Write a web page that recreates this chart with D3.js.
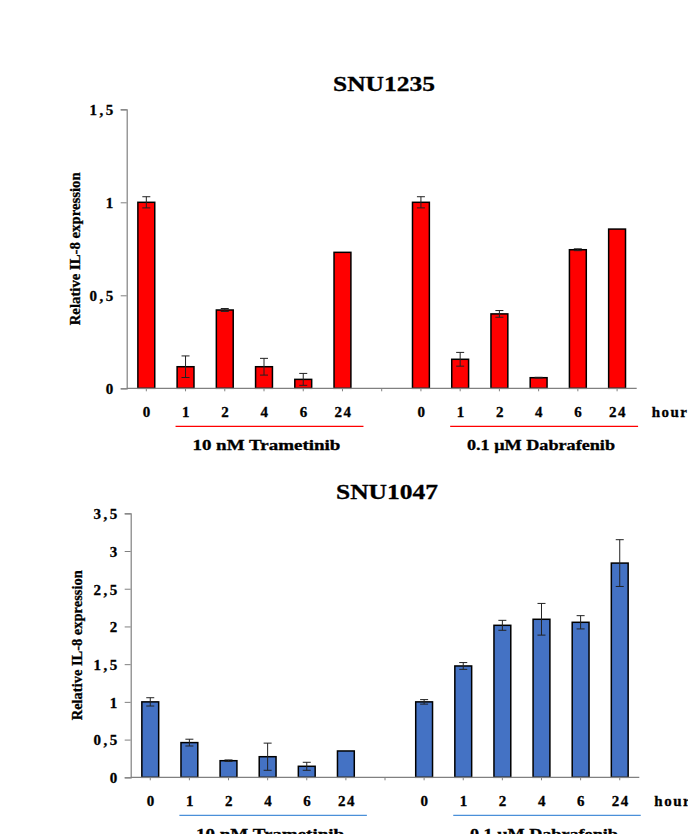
<!DOCTYPE html>
<html>
<head>
<meta charset="utf-8">
<script src="https://cdn.jsdelivr.net/npm/d3@7"></script>
<style>
  body { margin: 0; background: #fff; }
  svg { display: block; }
  text { font-family: "Liberation Serif", "Times New Roman", serif; font-weight: bold; fill: #000; stroke: #000; stroke-width: 0.3px; }
</style>
</head>
<body>
<svg id="chart" width="688" height="834"></svg>
<script>
// categories (hours), with an empty slot between the two treatments
const hours = ["0", "1", "2", "4", "6", "24"];
const slots = [...hours.map(h => "T" + h), "gap", ...hours.map(h => "D" + h)];
const treatments = ["10 nM Trametinib", "0.1 \u03bcM Dabrafenib"];

// SNU1235
const snu1235Tram = [1.0, 0.116, 0.421, 0.116, 0.048, 0.731];
const snu1235TramErr = [0.03, 0.058, 0.008, 0.045, 0.032, 0];
const snu1235Dab = [1.0, 0.156, 0.40, 0.057, 0.745, 0.856];
const snu1235DabErr = [0.03, 0.037, 0.018, 0.002, 0.005, 0];
const snu1235Ticks = [0, 0.5, 1, 1.5];

// SNU1047
const snu1047Tram = [1.0, 0.46, 0.22, 0.273, 0.146, 0.349];
const snu1047TramErr = [0.055, 0.045, 0.01, 0.18, 0.053, 0];
const snu1047Dab = [1.0, 1.476, 2.015, 2.095, 2.055, 2.84];
const snu1047DabErr = [0.03, 0.045, 0.066, 0.21, 0.088, 0.31];
const snu1047Ticks = [0, 0.5, 1, 1.5, 2, 2.5, 3, 3.5];

const svg = d3.select("#chart");
const fmt = v => String(v).replace(".", ",");

function drawPanel(opt) {
	const g = svg.append("g");
	const x = d3.scaleBand().domain(slots).range([opt.left, opt.right]).paddingInner(0.57).paddingOuter(0.285);
	const cx = k => x(k) + x.bandwidth() / 2;
	const y = d3.scaleLinear().domain([0, opt.max]).range([opt.bottom, opt.top]);

	const rows = [];
	hours.forEach((h, i) => {
		rows.push({ k: "T" + h, v: opt.tram[i], e: opt.tramErr[i] });
		rows.push({ k: "D" + h, v: opt.dab[i], e: opt.dabErr[i] });
	});

	// title
	g.append("text").attr("x", opt.titleX).attr("y", opt.titleY)
		.attr("text-anchor", "middle").style("font-size", "22px")
		.attr("textLength", 102).attr("lengthAdjust", "spacingAndGlyphs")
		.text(opt.title);

	// y axis
	const yAxis = g.append("g").attr("transform", `translate(${opt.left},0)`)
		.call(d3.axisLeft(y).tickValues(opt.ticks).tickSize(6).tickFormat(fmt));
	yAxis.select(".domain").attr("stroke", "#808080").attr("stroke-width", 1.2);
	yAxis.selectAll(".tick line").attr("stroke", "#808080");
	yAxis.selectAll(".tick text").attr("x", -11).attr("dy", "0.36em")
		.style("font-size", "15px").style("letter-spacing", "2.5px")
		.style("font-family", "'Liberation Serif', serif").style("font-weight", "bold");

	// y label
	g.append("text")
		.attr("transform", `translate(${opt.labelX},${(opt.top + opt.bottom) / 2}) rotate(-90)`)
		.attr("text-anchor", "middle").style("font-size", "15px")
		.attr("textLength", opt.labelLen).attr("lengthAdjust", "spacingAndGlyphs")
		.text("Relative IL-8 expression");

	// bars
	g.selectAll(".bar").data(rows).enter().append("rect")
		.attr("class", "bar")
		.attr("x", d => x(d.k))
		.attr("width", x.bandwidth())
		.attr("y", d => y(d.v))
		.attr("height", d => y(0) - y(d.v))
		.attr("fill", opt.color)
		.attr("stroke", "#000")
		.attr("stroke-width", 1.5);

	// error bars
	const eb = g.selectAll(".err").data(rows.filter(d => d.e > 0)).enter().append("g")
		.attr("stroke", "#222").attr("stroke-width", 1);
	eb.append("line").attr("x1", d => cx(d.k)).attr("x2", d => cx(d.k))
		.attr("y1", d => y(d.v - d.e)).attr("y2", d => y(d.v + d.e));
	eb.append("line").attr("x1", d => cx(d.k) - 4).attr("x2", d => cx(d.k) + 4)
		.attr("y1", d => y(d.v + d.e)).attr("y2", d => y(d.v + d.e));
	eb.append("line").attr("x1", d => cx(d.k) - 4).attr("x2", d => cx(d.k) + 4)
		.attr("y1", d => y(d.v - d.e)).attr("y2", d => y(d.v - d.e));

	// x axis baseline with small ticks at category centres
	const xa = g.append("g").attr("transform", `translate(0,${opt.bottom})`);
	xa.append("line").attr("x1", opt.left).attr("x2", opt.right)
		.attr("stroke", "#808080").attr("stroke-width", 1.2);
	xa.selectAll(".xt").data(slots).enter().append("line")
		.attr("x1", cx).attr("x2", cx).attr("y1", 0).attr("y2", 3)
		.attr("stroke", "#808080");

	// hour labels
	g.selectAll(".xl").data(rows).enter().append("text")
		.attr("x", d => cx(d.k) + 1).attr("y", opt.bottom + 29)
		.attr("text-anchor", "middle").style("font-size", "15px").style("letter-spacing", "1.5px")
		.text(d => d.k.slice(1));
	g.append("text").attr("x", opt.right + 15).attr("y", opt.bottom + 29)
		.style("font-size", "15px").style("letter-spacing", "1.5px").text("hour");

	// treatment underline and label
	["T", "D"].forEach((p, i) => {
		const x1 = cx(p + "1") - 10, x2 = cx(p + "24") + 21;
		g.append("line").attr("x1", x1).attr("x2", x2)
			.attr("y1", opt.bottom + 38).attr("y2", opt.bottom + 38)
			.attr("stroke", opt.lineColor).attr("stroke-width", 1.2);
		g.append("text").attr("x", (cx(p + "0") + cx(p + "24")) / 2 + 22).attr("y", opt.bottom + 62)
			.attr("text-anchor", "middle").style("font-size", "15px")
			.attr("textLength", 148).attr("lengthAdjust", "spacingAndGlyphs")
			.text(treatments[i]);
	});
}

drawPanel({
	title: "SNU1235", titleX: 384, titleY: 91,
	left: 126.7, right: 636.7, top: 109.3, bottom: 388.3, max: 1.5,
	ticks: snu1235Ticks, labelX: 80, labelLen: 153,
	tram: snu1235Tram, tramErr: snu1235TramErr, dab: snu1235Dab, dabErr: snu1235DabErr,
	color: "#ff0000", lineColor: "#ff0000"
});

drawPanel({
	title: "SNU1047", titleX: 387, titleY: 499,
	left: 130.7, right: 639.3, top: 513.3, bottom: 777.3, max: 3.5,
	ticks: snu1047Ticks, labelX: 82, labelLen: 150,
	tram: snu1047Tram, tramErr: snu1047TramErr, dab: snu1047Dab, dabErr: snu1047DabErr,
	color: "#4472c4", lineColor: "#4a90d9"
});
</script>
</body>
</html>
